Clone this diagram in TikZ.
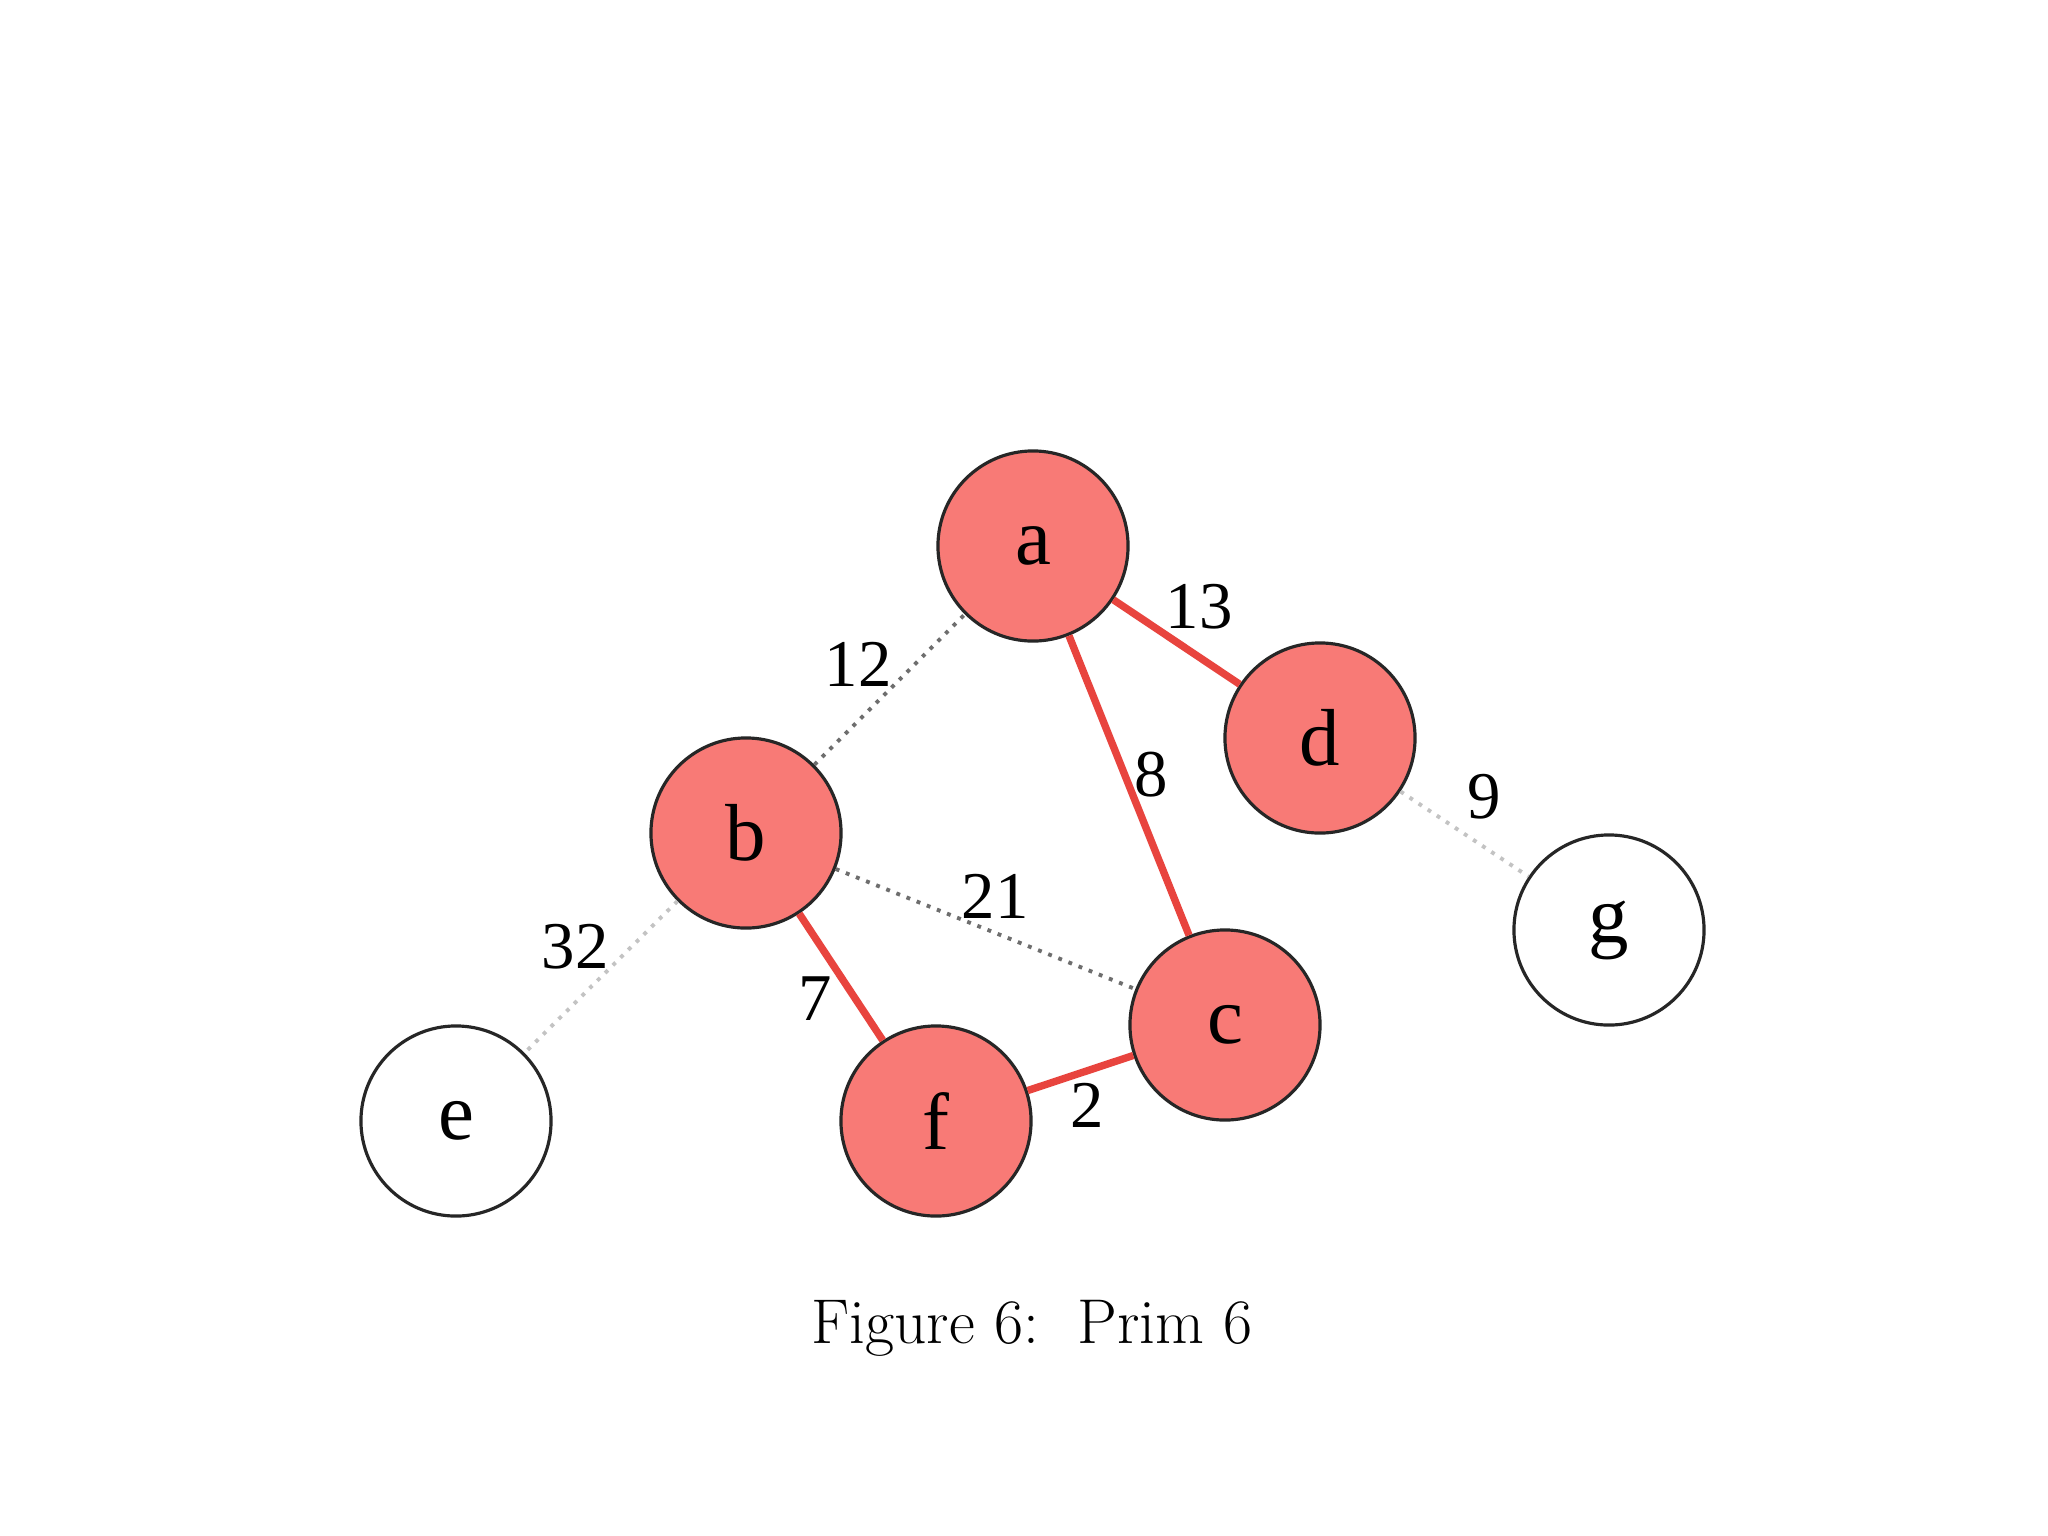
\documentclass[tikz,border=0pt]{standalone}
\usepackage{fontspec}
\newfontfamily\timesf{Liberation Serif}
\definecolor{nodered}{RGB}{248,122,118}
\definecolor{edgered}{RGB}{232,68,62}
\definecolor{darkdot}{RGB}{110,110,110}
\definecolor{lightdot}{RGB}{195,195,195}
\begin{document}
\begin{tikzpicture}[x=0.01cm,y=-0.01cm,
  vert/.style={circle,draw=black!85,line width=0.9pt,minimum size=1.9cm,inner sep=0pt,font=\timesf\fontsize{23}{23}\selectfont},
  visited/.style={vert,fill=nodered},
  tree/.style={draw=edgered,line width=2.1pt},
  cand/.style={draw=darkdot,line width=1.1pt,dotted},
  faint/.style={draw=lightdot,line width=1.1pt,dotted},
  wlab/.style={font=\timesf\fontsize{19}{19}\selectfont,inner sep=0pt}]
\useasboundingbox[fill=white] (0,0) rectangle (2048,1536);
\node[visited] (a) at (1033,546) {a};
\node[visited] (d) at (1320,738) {d};
\node[visited] (b) at (746,833) {b};
\node[vert]    (g) at (1609,930) {g};
\node[visited] (c) at (1225,1025) {c};
\node[vert]    (e) at (456,1121) {e};
\node[visited] (f) at (936,1121) {f};
\draw[tree] (a) -- (d);
\draw[tree] (a) -- (c);
\draw[tree] (b) -- (f);
\draw[tree] (f) -- (c);
\draw[cand] (b) -- (a);
\draw[cand] (b) -- (c);
\draw[faint] (b) -- (e);
\draw[faint] (d) -- (g);
\node[wlab] (l13) at (1199,607) {13};
\node[wlab] (l12) at (858,664) {12};
\node[wlab] (l8) at (1151,775) {8};
\node[wlab] (l9) at (1484,797) {9};
\node[wlab] (l21) at (995,896) {21};
\node[wlab] (l32) at (575,947) {32};
\node[wlab] (l7) at (815,999) {7};
\node[wlab] (l2) at (1087,1105) {2};
\node[font=\fontsize{18}{18}\selectfont,inner sep=0pt] (cap) at (1032,1328) {Figure 6:\ \ Prim 6};
\end{tikzpicture}
\end{document}
